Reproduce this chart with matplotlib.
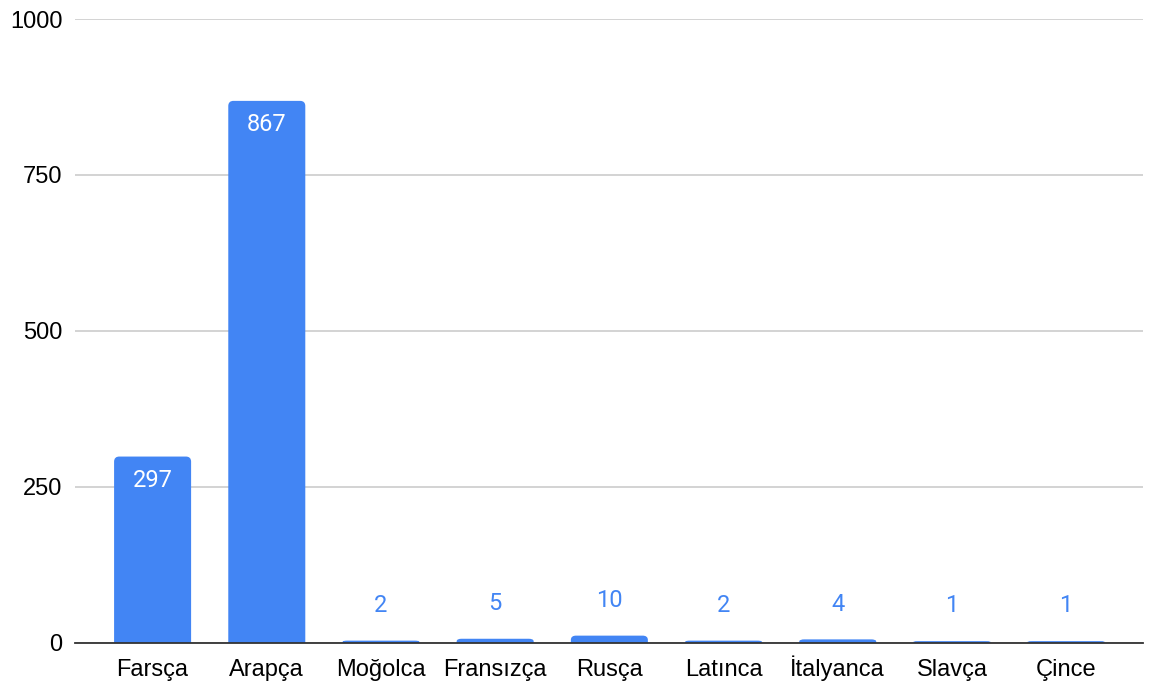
# bar chart of loanword counts by source language

import matplotlib.pyplot as plt
from matplotlib.patches import PathPatch
from matplotlib.path import Path

languages = ['Farsça', 'Arapça', 'Moğolca', 'Fransızça', 'Rusça', 'Latınca', 'İtalyanca', 'Slavça', 'Çince']
counts = [297, 867, 2, 5, 10, 2, 4, 1, 1]
y_ticks = [0, 250, 500, 750, 1000]

bar_color = '#4285f4'
bar_width = 0.655


def rounded_bar(xc, h, w, rx=0.035, ry=6.4):
    # rectangle with only the top corners rounded
    ry = min(ry, h / 2)
    x0, x1 = xc - w / 2, xc + w / 2
    verts = [(x0, 0), (x0, h - ry), (x0, h), (x0 + rx, h), (x1 - rx, h),
             (x1, h), (x1, h - ry), (x1, 0), (x0, 0)]
    codes = [Path.MOVETO, Path.LINETO, Path.CURVE3, Path.CURVE3, Path.LINETO,
             Path.CURVE3, Path.CURVE3, Path.LINETO, Path.CLOSEPOLY]
    return PathPatch(Path(verts, codes), facecolor=bar_color, edgecolor=bar_color,
                     linewidth=1.6, zorder=3)


fig = plt.figure(figsize=(11.53, 6.86), dpi=100)
ax = fig.add_axes([0.065, 0.0627, 0.926, 0.9096])

x = list(range(len(languages)))
for i, v in zip(x, counts):
    ax.add_patch(rounded_bar(i, v, bar_width))

for i, v in zip(x, counts):
    if v > 100:
        ax.text(i, v - 23 * 1000 / 624, str(v), ha='center', va='center', color='white',
                fontsize=17, family='Roboto', zorder=4)
    else:
        ax.text(i, v + 37 * 1000 / 624 - 1, str(v), ha='center', va='center', color=bar_color,
                fontsize=17, family='Roboto', zorder=4)

ax.set_xlim(-0.68, 8.67)
ax.set_ylim(0, 1000)
ax.set_yticks(y_ticks)
ax.set_yticklabels([str(t) for t in y_ticks], fontsize=17, family='Liberation Sans')
ax.set_xticks(x)
ax.set_xticklabels(languages, fontsize=17, family='Liberation Sans')
for t in ax.get_xticklabels():
    t.set_va('baseline')
ax.tick_params(length=0)
ax.tick_params(axis='x', pad=24)
ax.tick_params(axis='y', pad=9)

ax.grid(axis='y', color='#cccccc', linewidth=1.2, zorder=0)
for s in ['top', 'right', 'left']:
    ax.spines[s].set_visible(False)
ax.spines['bottom'].set_color('#333333')
ax.spines['bottom'].set_linewidth(1.3)
ax.spines['bottom'].set_zorder(5)

fig.savefig('out.png', dpi=100)
